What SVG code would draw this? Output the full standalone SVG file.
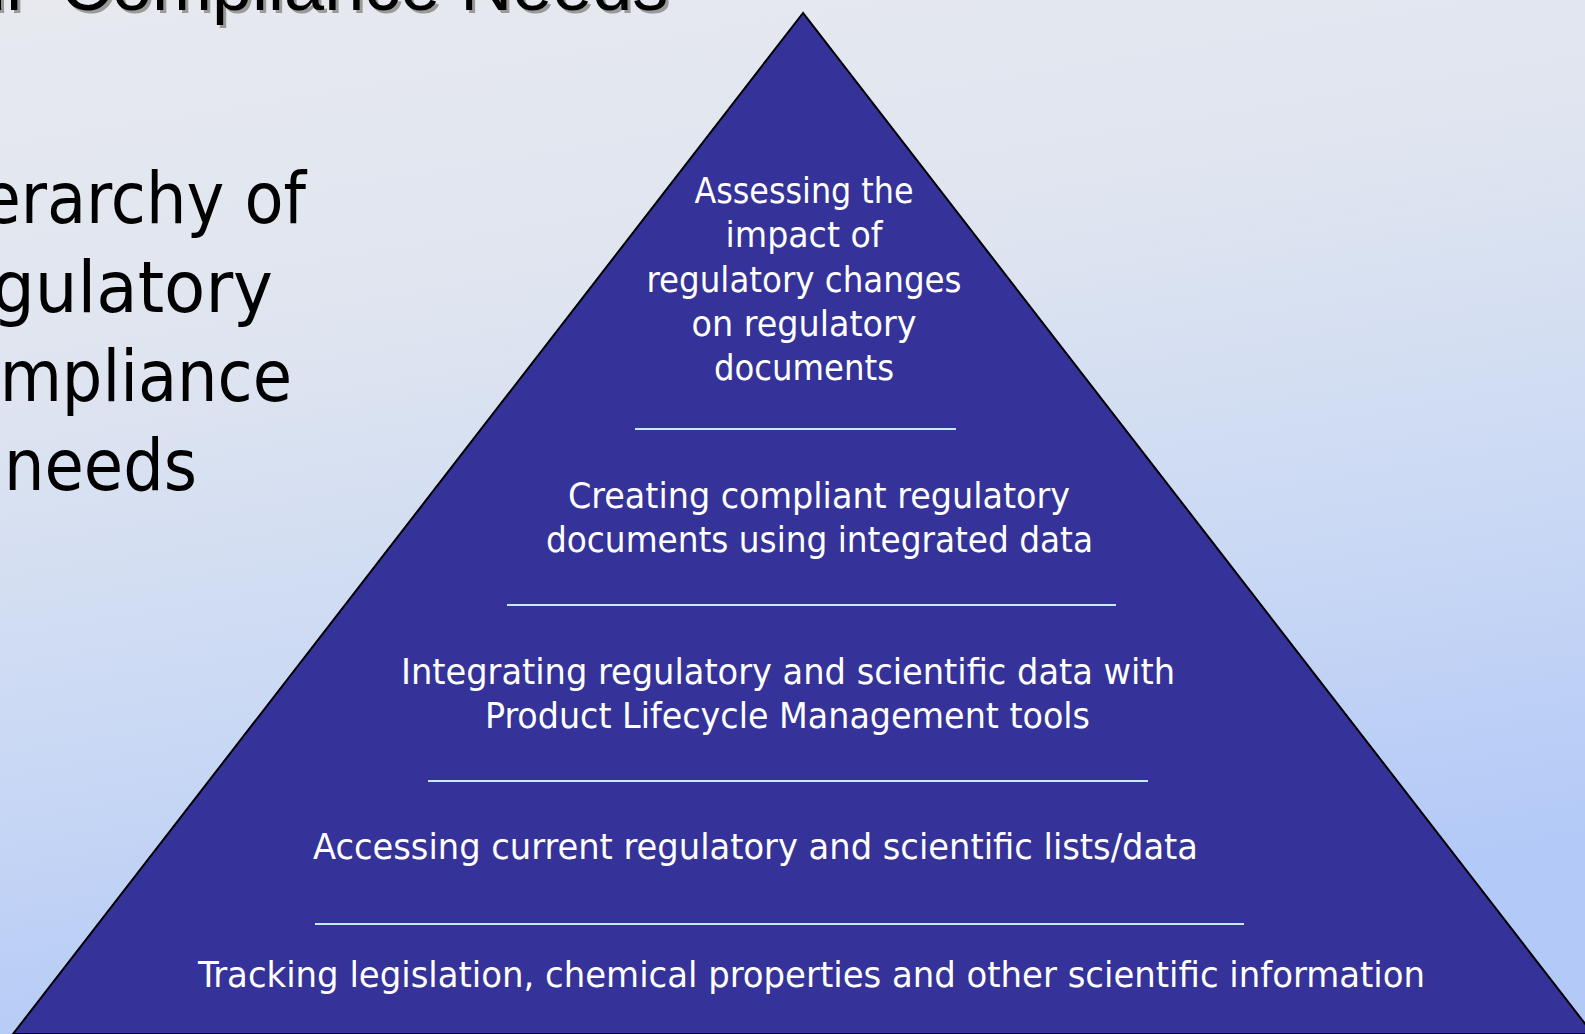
<svg xmlns="http://www.w3.org/2000/svg" width="1585" height="1034" viewBox="0 0 1585 1034">
  <defs>
    <linearGradient id="bg" x1="0" y1="0" x2="0.25" y2="1">
      <stop offset="0" stop-color="#e7e9ef"/>
      <stop offset="0.35" stop-color="#dfe5f0"/>
      <stop offset="0.7" stop-color="#c9d8f4"/>
      <stop offset="1" stop-color="#b3c9f7"/>
    </linearGradient>
    <style>
      .tier { font-family: "DejaVu Sans", "Liberation Sans", sans-serif; font-stretch: condensed; font-size: 35px; fill: #ffffff; text-anchor: middle; }
      .side { font-family: "DejaVu Sans", "Liberation Sans", sans-serif; font-stretch: condensed; font-size: 71px; fill: #000000; text-anchor: end; }
      .title { font-family: "Liberation Sans", Arial, sans-serif; font-size: 72px; }
      .divider { stroke: #c4ecf2; stroke-width: 2; fill: none; }
    </style>
  </defs>

  <rect id="background" x="0" y="0" width="1585" height="1034" fill="url(#bg)"/>

  <g id="title">
    <text class="title" x="-31" y="13" fill="#9a9a9a">ur<tspan dx="10"> Compliance Needs</tspan></text>
    <text class="title" x="-34" y="10" fill="#000000">ur<tspan dx="10"> Compliance Needs</tspan></text>
  </g>

  <g id="side-label">
    <text class="side" x="306" y="223">erarchy of</text>
    <text class="side" x="273" y="312" textLength="281" lengthAdjust="spacingAndGlyphs">gulatory</text>
    <text class="side" x="292" y="401">mpliance</text>
    <text class="side" x="197" y="490">needs</text>
  </g>

  <g id="pyramid">
    <polygon points="803,13 13,1034 1593,1034" fill="#353399" stroke="#000000" stroke-width="2" stroke-linejoin="miter"/>
  </g>

  <g id="connectors">
    <line class="divider" x1="635" y1="429" x2="956" y2="429"/>
    <line class="divider" x1="507" y1="605" x2="1116" y2="605"/>
    <line class="divider" x1="428" y1="781" x2="1148" y2="781"/>
    <line class="divider" x1="315" y1="924" x2="1244" y2="924"/>
  </g>

  <g id="tier-1">
    <text class="tier" x="804" y="203" textLength="219" lengthAdjust="spacingAndGlyphs">Assessing the</text>
    <text class="tier" x="804" y="247" textLength="157" lengthAdjust="spacingAndGlyphs">impact of</text>
    <text class="tier" x="804" y="291.5" textLength="315" lengthAdjust="spacingAndGlyphs">regulatory changes</text>
    <text class="tier" x="804" y="336" textLength="225" lengthAdjust="spacingAndGlyphs">on regulatory</text>
    <text class="tier" x="804" y="380" textLength="180" lengthAdjust="spacingAndGlyphs">documents</text>
  </g>

  <g id="tier-2">
    <text class="tier" x="819" y="508" textLength="502" lengthAdjust="spacingAndGlyphs">Creating compliant regulatory</text>
    <text class="tier" x="819.5" y="552" textLength="547" lengthAdjust="spacingAndGlyphs">documents using integrated data</text>
  </g>

  <g id="tier-3">
    <text class="tier" x="788" y="684" textLength="774" lengthAdjust="spacingAndGlyphs">Integrating regulatory and scientific data with</text>
    <text class="tier" x="787.5" y="728" textLength="605" lengthAdjust="spacingAndGlyphs">Product Lifecycle Management tools</text>
  </g>

  <g id="tier-4">
    <text class="tier" x="755.5" y="859" textLength="885" lengthAdjust="spacingAndGlyphs">Accessing current regulatory and scientific lists/data</text>
  </g>

  <g id="tier-5">
    <text class="tier" x="811.5" y="987" textLength="1227" lengthAdjust="spacingAndGlyphs">Tracking legislation, chemical properties and other scientific information</text>
  </g>
</svg>
